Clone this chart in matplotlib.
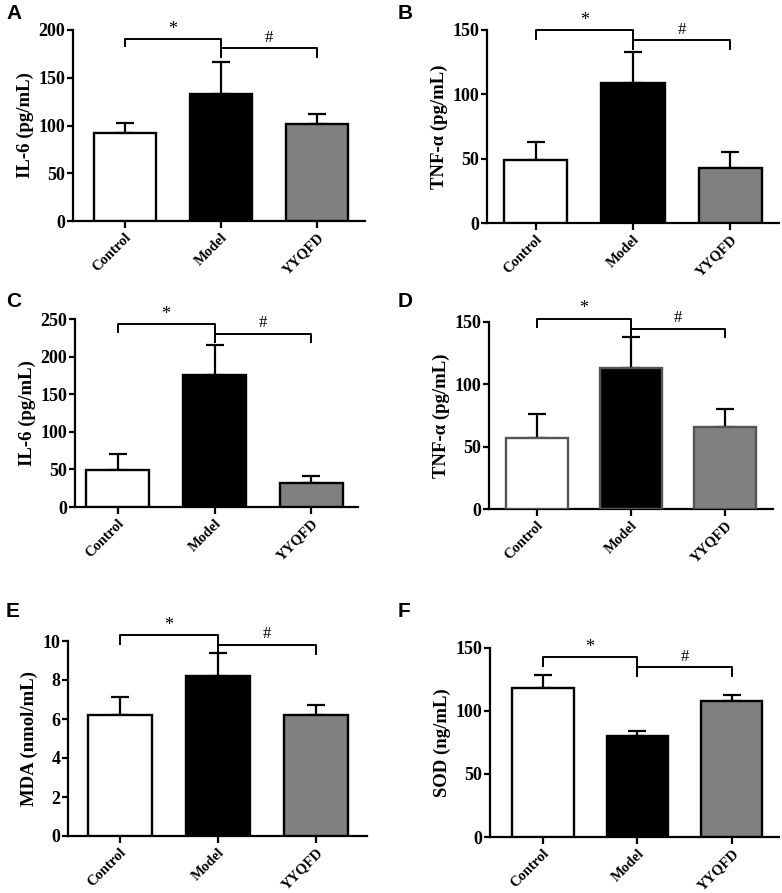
import numpy as np
import matplotlib
matplotlib.use('Agg')
import matplotlib.pyplot as plt

plt.rcParams['font.family'] = 'Liberation Serif'
plt.rcParams['font.weight'] = 'bold'

groups = ['Control', 'Model', 'YYQFD']
bar_colors = ['white', 'black', '#808080']

# mean values and upper error (SD)
il6_a = [92, 133, 102]
il6_a_err = [11, 33, 10]
tnf_b = [49, 109, 43]
tnf_b_err = [14, 24, 12]
il6_c = [49, 175, 32]
il6_c_err = [21, 41, 9]
tnf_d = [57, 113, 66]
tnf_d_err = [19, 25, 14]
mda_e = [6.2, 8.2, 6.2]
mda_e_err = [0.95, 1.2, 0.5]
sod_f = [118, 80, 108]
sod_f_err = [10.5, 4.5, 5]

W, H = 782, 893
fig = plt.figure(figsize=(W / 100, H / 100), dpi=100)

# letter, values, errors, ylabel, ymax, ystep, axes box in px (left, right, top, bottom),
# xlim, bracket (star line, star leg, hash line, hash leg), edge colour
panels = [
    ('A', il6_a, il6_a_err, 'IL-6 (pg/mL)', 200, 50, (73, 365, 30, 221), (-0.54, 2.5),
     (190.6, 183, 180.8, 172), 'black'),
    ('B', tnf_b, tnf_b_err, 'TNF-α (pg/mL)', 150, 50, (487, 779, 30, 223), (-0.5, 2.5),
     (150, 143, 142, 135), 'black'),
    ('C', il6_c, il6_c_err, 'IL-6 (pg/mL)', 250, 50, (75, 358, 319, 507), (-0.44, 2.48),
     (243, 233, 230.4, 219), 'black'),
    ('D', tnf_d, tnf_d_err, 'TNF-α (pg/mL)', 150, 50, (489, 773, 322, 509), (-0.51, 2.51),
     (152.7, 146, 144.7, 138), '#555555'),
    ('E', mda_e, mda_e_err, 'MDA (nmol/mL)', 10, 2, (68, 367, 641, 836), (-0.53, 2.52),
     (10.3, 9.83, 9.79, 9.35), 'black'),
    ('F', sod_f, sod_f_err, 'SOD (ng/mL)', 150, 50, (490, 779, 648, 837), (-0.56, 2.5),
     (142.8, 136, 134.6, 128), 'black'),
]

letter_pos = {'A': (6, 4), 'B': (398, 4), 'C': (6, 292), 'D': (398, 292),
              'E': (6, 602), 'F': (398, 602)}

for letter, vals, errs, ylab, ymax, ystep, box, xl, br, ec in panels:
    l, r, t, b = box
    ax = fig.add_axes([l / W, 1 - b / H, (r - l) / W, (b - t) / H])
    x = np.arange(len(groups))
    ax.bar(x, vals, width=0.65, color=bar_colors, edgecolor=ec, linewidth=1.7, zorder=3)
    ax.errorbar(x, vals, yerr=[np.zeros(len(errs)), errs], fmt='none', ecolor='black',
                elinewidth=1.6, capsize=6.5, capthick=1.6, zorder=2)
    ax.set_xlim(*xl)
    ax.set_ylim(0, ymax)
    ax.set_yticks(np.arange(0, ymax + ystep / 2, ystep))
    ax.set_xticks(x)
    ax.set_xticklabels(groups, rotation=45, ha='right', rotation_mode='anchor',
                       fontsize=10.5, fontweight='bold')
    for lab in ax.get_yticklabels():
        lab.set_fontsize(13)
        lab.set_fontweight('bold')
    ax.set_ylabel(ylab, fontsize=13.5, fontweight='bold', labelpad=3)
    ax.spines['top'].set_visible(False)
    ax.spines['right'].set_visible(False)
    ax.spines['left'].set_linewidth(1.6)
    ax.spines['bottom'].set_linewidth(1.6)
    ax.tick_params(axis='y', width=1.6, length=4, pad=1.5, direction='out')
    ax.tick_params(axis='x', width=1.6, length=5, pad=2, direction='out')

    s_line, s_leg, h_line, h_leg = br
    ax.plot([0, 0, 1, 1], [s_leg, s_line, s_line, h_leg], color='black', lw=1.4,
            clip_on=False, zorder=4)
    ax.plot([1, 1, 2, 2], [h_leg, h_line, h_line, h_leg], color='black', lw=1.4,
            clip_on=False, zorder=4)
    ax.annotate('*', (0.5, s_line), xytext=(0, 1), textcoords='offset points',
                ha='center', va='bottom', fontsize=13, fontweight='normal',
                annotation_clip=False)
    ax.annotate('#', (1.5, h_line), xytext=(0, 2), textcoords='offset points',
                ha='center', va='bottom', fontsize=12, fontweight='normal',
                annotation_clip=False)

    lx, ly = letter_pos[letter]
    fig.text(lx / W, 1 - ly / H, letter, ha='left', va='top', fontsize=15,
             fontweight='bold', family='Liberation Sans')

fig.savefig('out.png', dpi=100)
